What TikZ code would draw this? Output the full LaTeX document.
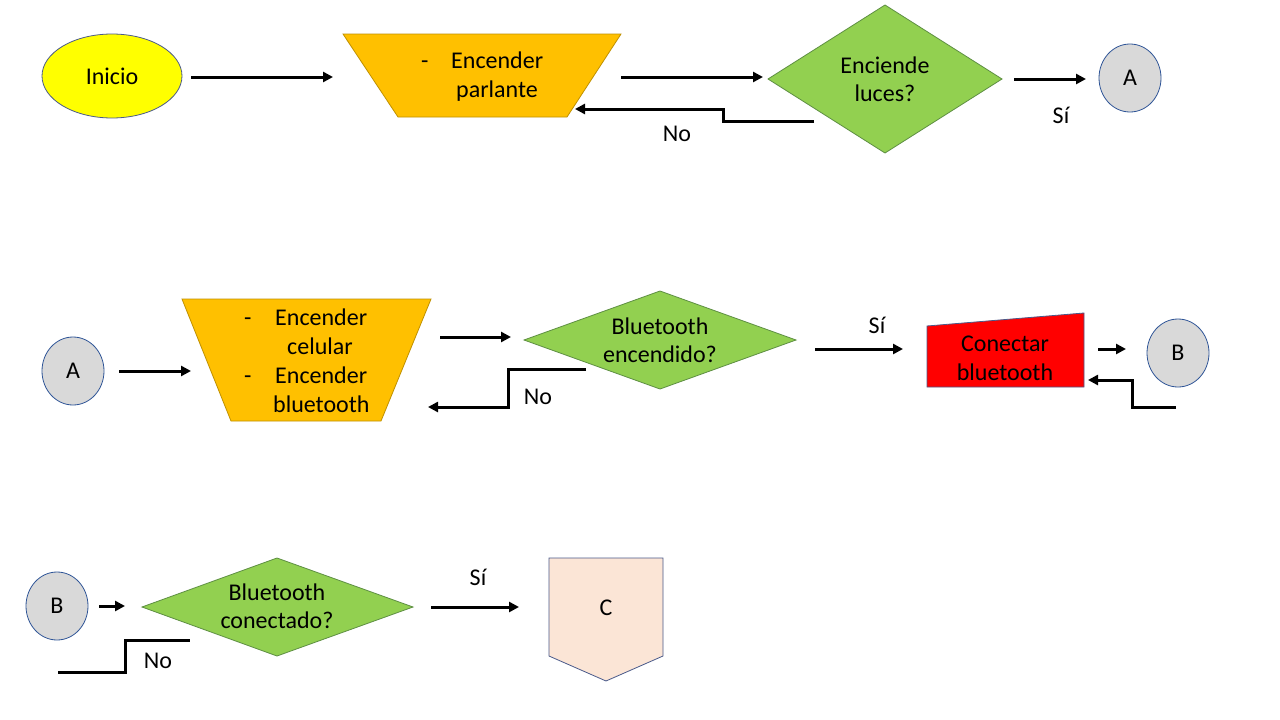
\documentclass[tikz,border=0pt]{standalone}
\usepackage{fontspec}
\setmainfont{Carlito}
\usetikzlibrary{arrows.meta,shapes.geometric}
\definecolor{yel}{HTML}{FFFF00}
\definecolor{org}{HTML}{FFC000}
\definecolor{orgedge}{HTML}{BF9000}
\definecolor{grn}{HTML}{92D050}
\definecolor{grnedge}{HTML}{5E8F43}
\definecolor{gry}{HTML}{D9D9D9}
\definecolor{bedge}{HTML}{2F5597}
\definecolor{sedge}{HTML}{4A5A8A}
\definecolor{peach}{HTML}{FBE5D6}
\begin{document}
\begin{tikzpicture}[x=1pt,y=-1pt,
  arr/.style={line width=3pt,-{Triangle[length=10pt,width=10pt]}},
  fb/.style={line width=3pt},
  txt/.style={font=\fontsize{24}{28}\selectfont, inner sep=0pt, anchor=base},
  ltxt/.style={font=\fontsize{24}{28}\selectfont, inner sep=0pt, anchor=base west},
  circ/.style={ellipse, draw=bedge, line width=0.8pt, fill=gry, minimum width=62pt, minimum height=68pt, inner sep=0pt, font=\fontsize{24}{28}\selectfont},
  proc/.style={draw=orgedge, line width=0.8pt, fill=org},
  dec/.style={draw=grnedge, line width=0.8pt, fill=grn}
]
\useasboundingbox (0,0) rectangle (1280,720);
\fill[white] (0,0) rectangle (1280,720);

% ---------- Row 1 ----------
\node[ellipse, draw=sedge, line width=0.8pt, fill=yel, minimum width=140pt, minimum height=84pt, inner sep=0pt, font=\fontsize{24}{28}\selectfont] (inicio) at (112,76) {Inicio};
\draw[proc] (343,34) -- (621,34) -- (567,117) -- (398,117) -- cycle;
\node[ltxt] (p1d) at (421,68) {-};
\node[ltxt] (p1a) at (451,68) {Encender};
\node[ltxt] (p1b) at (456,97) {parlante};
\draw[dec] (768,79) -- (885,5) -- (1002,79) -- (885,153) -- cycle;
\node[txt] (d1a) at (885,73) {Enciende};
\node[txt] (d1b) at (885,101) {luces?};
\node[circ] (A1) at (1130,78) {A};

\coordinate (r1a) at (191,77); \coordinate (r1b) at (333,77);
\coordinate (r1c) at (621,77); \coordinate (r1d) at (763,77);
\coordinate (r1e) at (1014,79); \coordinate (r1f) at (1086,79);
\draw[arr] (r1a) -- (r1b);
\draw[arr] (r1c) -- (r1d);
\draw[arr] (r1e) -- (r1f);
\node[txt] (si1) at (1061,123) {Sí};
\coordinate (n1a) at (814,121); \coordinate (n1b) at (575,109);
\draw[arr] (n1a) -- (723,121) -- (723,109) -- (n1b);
\node[txt] (no1) at (677,141) {No};

% ---------- Row 2 ----------
\node[circ] (A2) at (73,371) {A};
\draw[proc] (182,299) -- (431,299) -- (381,421) -- (231,421) -- cycle;
\node[ltxt] (p2d1) at (244,325) {-};
\node[ltxt] (p2a) at (275,325) {Encender};
\node[ltxt] (p2b) at (287,354) {celular};
\node[ltxt] (p2d2) at (244,383) {-};
\node[ltxt] (p2c) at (275,383) {Encender};
\node[ltxt] (p2e) at (273,412) {bluetooth};
\draw[dec] (524,340) -- (660,291) -- (796,340) -- (660,389) -- cycle;
\node[txt] (d2a) at (660,334) {Bluetooth};
\node[txt] (d2b) at (660,362) {encendido?};
\draw[draw=sedge, line width=0.8pt, fill=red] (927,326) -- (1084,313) -- (1084,387) -- (927,387) -- cycle;
\node[txt] (c1) at (1005,351) {Conectar};
\node[txt] (c2) at (1005,380) {bluetooth};
\node[circ] (B1) at (1178,353) {B};

\coordinate (r2a) at (119,371); \coordinate (r2b) at (191,371);
\coordinate (r2c) at (440,337); \coordinate (r2d) at (511,337);
\coordinate (r2e) at (815,349); \coordinate (r2f) at (903,349);
\coordinate (r2g) at (1098,349); \coordinate (r2h) at (1126,349);
\draw[arr] (r2a) -- (r2b);
\draw[arr] (r2c) -- (r2d);
\draw[arr] (r2e) -- (r2f);
\draw[arr] (r2g) -- (r2h);
\node[txt] (si2) at (877,333) {Sí};
\coordinate (n2a) at (586,369); \coordinate (n2b) at (428,407);
\draw[arr] (n2a) -- (508,369) -- (508,407) -- (n2b);
\node[txt] (no2) at (538,404) {No};
\coordinate (n3a) at (1176,407); \coordinate (n3b) at (1088,380);
\draw[arr] (n3a) -- (1132,407) -- (1132,380) -- (n3b);

% ---------- Row 3 ----------
\node[circ] (B2) at (57,606) {B};
\draw[dec] (142,607) -- (277,558) -- (413,607) -- (277,656) -- cycle;
\node[txt] (d3a) at (277,600) {Bluetooth};
\node[txt] (d3b) at (277,628) {conectado?};
\draw[draw=sedge, line width=0.8pt, fill=peach] (549,558) -- (663,558) -- (663,656) -- (606,681) -- (549,656) -- cycle;
\node[txt] (cC) at (606,615) {C};

\coordinate (r3a) at (99,606); \coordinate (r3b) at (125,606);
\coordinate (r3c) at (431,607); \coordinate (r3d) at (519,607);
\draw[arr] (r3a) -- (r3b);
\draw[arr] (r3c) -- (r3d);
\node[txt] (si3) at (478,585) {Sí};
\coordinate (n4a) at (58,672); \coordinate (n4b) at (190,640);
\draw[fb] (n4a) -- (125,672) -- (125,640) -- (n4b);
\node[txt] (no3) at (158,668) {No};
\end{tikzpicture}
\end{document}
